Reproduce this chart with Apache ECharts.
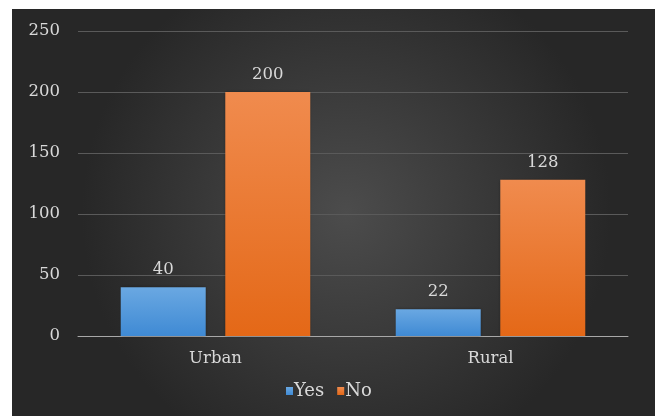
<!DOCTYPE html>
<html><head><meta charset="utf-8">
<script src="https://cdn.jsdelivr.net/npm/echarts@6/dist/echarts.min.js"></script>
<style>html,body{margin:0;padding:0;background:#fff;}#c{width:655px;height:416px;}</style>
</head><body><div id="c"></div>
<script>
const categories = ['Urban', 'Rural'];
const yesValues = [40, 22];
const noValues = [200, 128];
const seriesNames = ['Yes', 'No'];

const chart = echarts.init(document.getElementById('c'));
const font = '"DejaVu Serif", "Liberation Serif", serif';
const txt = '#d9d9d9';
function grad(top, bottom) {
  return new echarts.graphic.LinearGradient(0, 0, 0, 1, [{offset: 0, color: top}, {offset: 1, color: bottom}]);
}
const labelCfg = {show: true, position: 'top', distance: 9, color: txt, fontFamily: font, fontSize: 16.5};
chart.setOption({
  animation: false,
  graphic: [{
    type: 'rect', z: -10, silent: true,
    shape: {x: 12, y: 9, width: 643, height: 407},
    style: {fill: new echarts.graphic.RadialGradient(0.52, 0.5, 0.65, [
      {offset: 0, color: '#4c4c4c'}, {offset: 1, color: '#272727'}])}
  }],
  grid: {left: 78, right: 27, top: 31, bottom: 80},
  legend: {
    data: seriesNames, left: 286, top: 382, padding: 0, itemWidth: 7, itemHeight: 8, itemGap: 13,
    icon: 'rect',
    textStyle: {color: txt, fontFamily: font, fontSize: 18, padding: [0, 0, 0, -4]}
  },
  xAxis: {
    type: 'category', data: categories,
    axisLine: {lineStyle: {color: '#a8a8a8', width: 1}},
    axisTick: {show: false},
    axisLabel: {color: txt, fontFamily: font, fontSize: 16.5, margin: 14}
  },
  yAxis: {
    type: 'value', min: 0, max: 250, interval: 50,
    axisLine: {show: false}, axisTick: {show: false},
    splitLine: {lineStyle: {color: '#5a5a5a', width: 1}},
    axisLabel: {color: txt, fontFamily: font, fontSize: 16.5, margin: 18}
  },
  series: [
    {name: 'Yes', type: 'bar', data: yesValues, barWidth: 85, barGap: '23%',
     itemStyle: {color: grad('#6aa8e2', '#3f8ad4'), shadowBlur: 3, shadowColor: 'rgba(0,0,0,0.35)'},
     label: labelCfg},
    {name: 'No', type: 'bar', data: noValues, barWidth: 85, barGap: '23%',
     itemStyle: {color: grad('#f08b4e', '#e46817'), shadowBlur: 3, shadowColor: 'rgba(0,0,0,0.35)'},
     label: labelCfg}
  ]
});
</script></body></html>
